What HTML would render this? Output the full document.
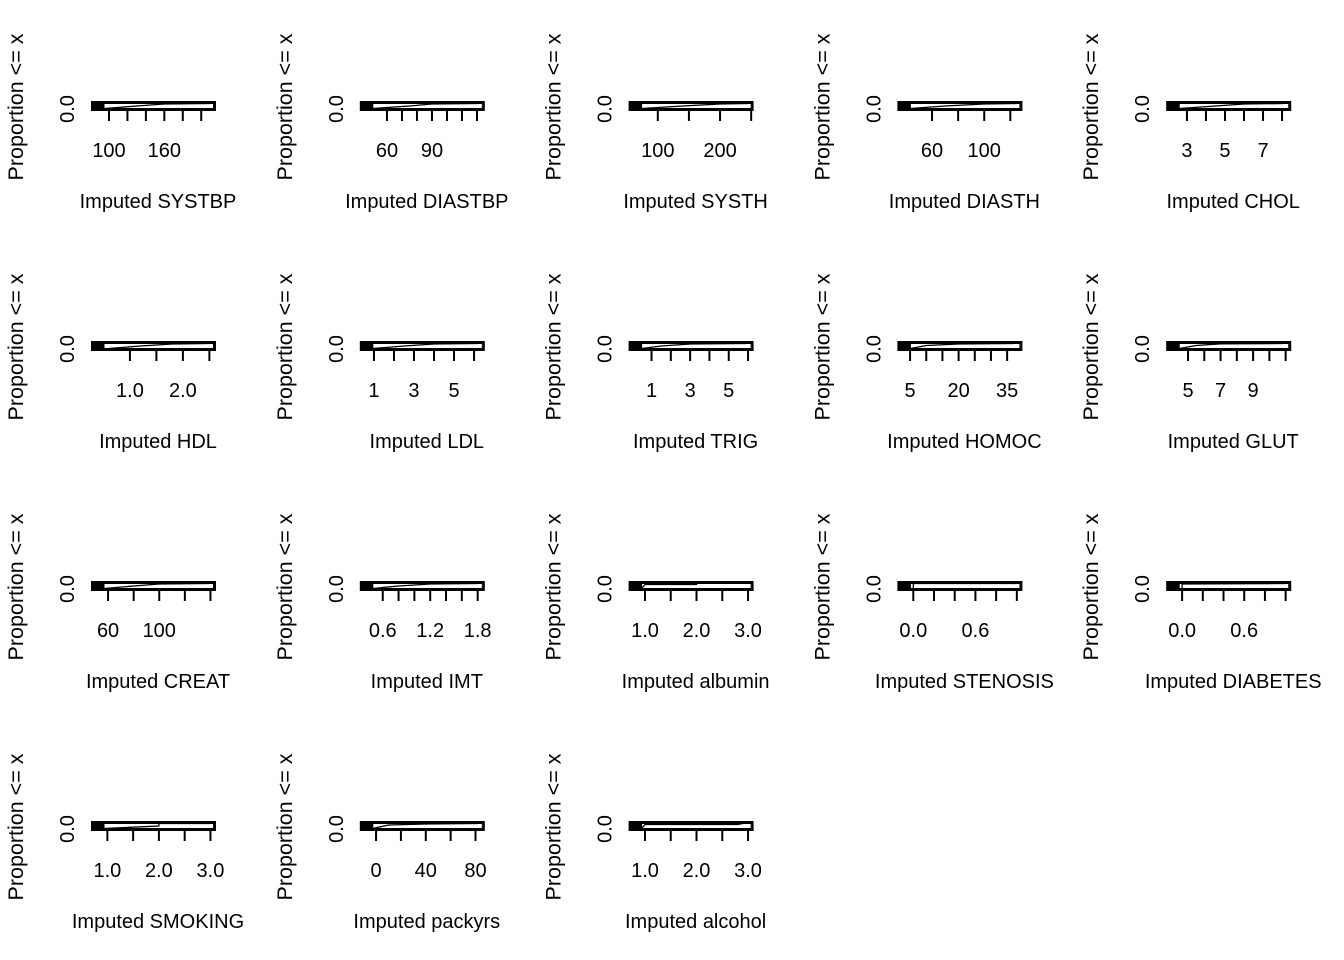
<!DOCTYPE html>
<html><head><meta charset="utf-8"><style>
html,body{margin:0;padding:0;background:#fff;}
svg{display:block;font-family:"Liberation Sans",Arial,sans-serif;}
</style></head><body>
<svg id="chart" width="1344" height="960" viewBox="0 0 1344 960"></svg>
<script>
const panelNames = ["SYSTBP","DIASTBP","SYSTH","DIASTH","CHOL","HDL","LDL","TRIG","HOMOC","GLUT","CREAT","IMT","albumin","STENOSIS","DIABETES","SMOKING","packyrs","alcohol"];
const xLo = [86.5,45.6,62,37.7,2.2,0.37,0.57,0.1,2.8,4.0,51,0.38,0.79,-0.1,-0.1,0.79,-8.6,0.79];
const xHi = [210,121.5,245,125,8.19,2.52,6.26,6,38,11,140,1.82,3.0,1.0,1.0,3.0,83,3.0];
const tickValues = [
 [100,120,140,160,180,200],[60,70,80,90,100,110,120],[100,150,200,250],[60,80,100,120],[3,4,5,6,7,8],
 [1.0,1.5,2.0,2.5],[1,2,3,4,5,6],[1,2,3,4,5,6],[5,10,15,20,25,30,35],[5,6,7,8,9,10,11],
 [60,80,100,120,140],[0.6,0.8,1.0,1.2,1.4,1.6,1.8],[1.0,1.5,2.0,2.5,3.0],[0,0.2,0.4,0.6,0.8,1.0],[0,0.2,0.4,0.6,0.8,1.0],
 [1.0,1.5,2.0,2.5,3.0],[0,20,40,60,80],[1.0,1.5,2.0,2.5,3.0]];
const tickLabels = [
 ["100","160"],["60","90"],["100","200"],["60","100"],["3","5","7"],
 ["1.0","2.0"],["1","3","5"],["1","3","5"],["5","20","35"],["5","7","9"],
 ["60","100"],["0.6","1.2","1.8"],["1.0","2.0","3.0"],["0.0","0.6"],["0.0","0.6"],
 ["1.0","2.0","3.0"],["0","40","80"],["1.0","2.0","3.0"]];
const labelValues = [
 [100,160],[60,90],[100,200],[60,100],[3,5,7],
 [1,2],[1,3,5],[1,3,5],[5,20,35],[5,7,9],
 [60,100],[0.6,1.2,1.8],[1,2,3],[0,0.6],[0,0.6],
 [1,2,3],[0,40,80],[1,2,3]];
const curveX = [
 [95,130,160,210],[50,75,90,121],[70,140,200,245],[40,70,100,125],[2.5,4.5,6,8.1],
 [0.6,1.2,1.8,2.5],[0.8,2.5,4,6.2],[0.3,1.5,3,5.9],[3,10,20,37],[4.2,5.5,7,10.8],
 [52,80,100,139],[0.4,0.8,1.2,1.8],[0.9,1.0,2.0,2.0],[0,0,0,1],[0,0,0,1],
 [0.9,2.0,2.0,3.0],[-5,10,40,82],[0.9,1.0,2.8,2.9]];
const curveP = [
 [0,0.5,0.9,1],[0,0.5,0.9,1],[0,0.5,0.9,1],[0,0.5,0.9,1],[0,0.5,0.9,1],
 [0,0.5,0.9,1],[0,0.5,0.9,1],[0,0.5,0.9,1],[0,0.6,0.9,1],[0,0.6,0.95,1],
 [0,0.5,0.9,1],[0,0.5,0.9,1],[0,0.8,0.8,1],[0,1,1,1],[0,0.9,0.9,1],
 [0,0.5,1,1],[0,0.7,0.9,1],[0,0.8,0.8,1]];

const NS="http://www.w3.org/2000/svg";
const svg=document.getElementById('chart');
function mk(tag,attrs,parent){const e=document.createElementNS(NS,tag);for(const k in attrs)e.setAttribute(k,attrs[k]);parent.appendChild(e);return e;}
const PL=92,PR=215,BT=102,BB=110;
panelNames.forEach((name,i)=>{
  const col=i%5,row=Math.floor(i/5);
  const ox=col*268.8, oy=row*240;
  const g=mk('g',{transform:`translate(${ox},${oy})`},svg);
  
  
  const lo=xLo[i],hi=xHi[i],ext=(hi-lo)*0.04;
  const sx=v=>PL+(v-(lo-ext))/((hi+ext)-(lo-ext))*(PR-PL);
  const yl=mk('text',{x:0,y:0,'font-size':21.5,'text-anchor':'middle',transform:`translate(23,107) rotate(-90)`},g);
  yl.textContent='Proportion <= x';
  
  
  const yt=mk('text',{x:0,y:0,'font-size':20,'text-anchor':'middle',transform:`translate(74,109) rotate(-90)`},g);
  yt.textContent='0.0';
  
  
  const frame=mk('rect',{x:PL,y:BT,width:PR-PL,height:BB-BT,fill:'#fff',stroke:'#000','stroke-width':2},g);
  
  
  const blk=mk('rect',{x:PL,y:BT,width:12,height:BB-BT,fill:'#000'},g);
  
  
  const inner=mk('rect',{x:PL+12,y:BT+1.5,width:PR-PL-13.5,height:BB-BT-3,fill:'none',stroke:'#000','stroke-width':1},g);
  
  
  const pts=curveX[i].map((v,j)=>`${Math.max(PL+12,Math.min(PR-1,sx(v))).toFixed(1)},${(BB-1.5-curveP[i][j]*(BB-BT-3)).toFixed(1)}`).join(' ');
  const line=mk('polyline',{points:pts,fill:'none',stroke:'#000','stroke-width':1.3},g);
  
  
  tickValues[i].forEach(v=>{
    const t=mk('line',{x1:sx(v),x2:sx(v),y1:BB,y2:121,stroke:'#000','stroke-width':2},g);
    
    
  });
  labelValues[i].forEach((v,j)=>{
    const t=mk('text',{x:sx(v),y:157,'font-size':20,'text-anchor':'middle'},g);
    t.textContent=tickLabels[i][j];
    
    
  });
  const xt=mk('text',{x:158,y:208,'font-size':20,'text-anchor':'middle'},g);
  xt.textContent='Imputed '+name;
  
  
});
</script>
</body></html>
